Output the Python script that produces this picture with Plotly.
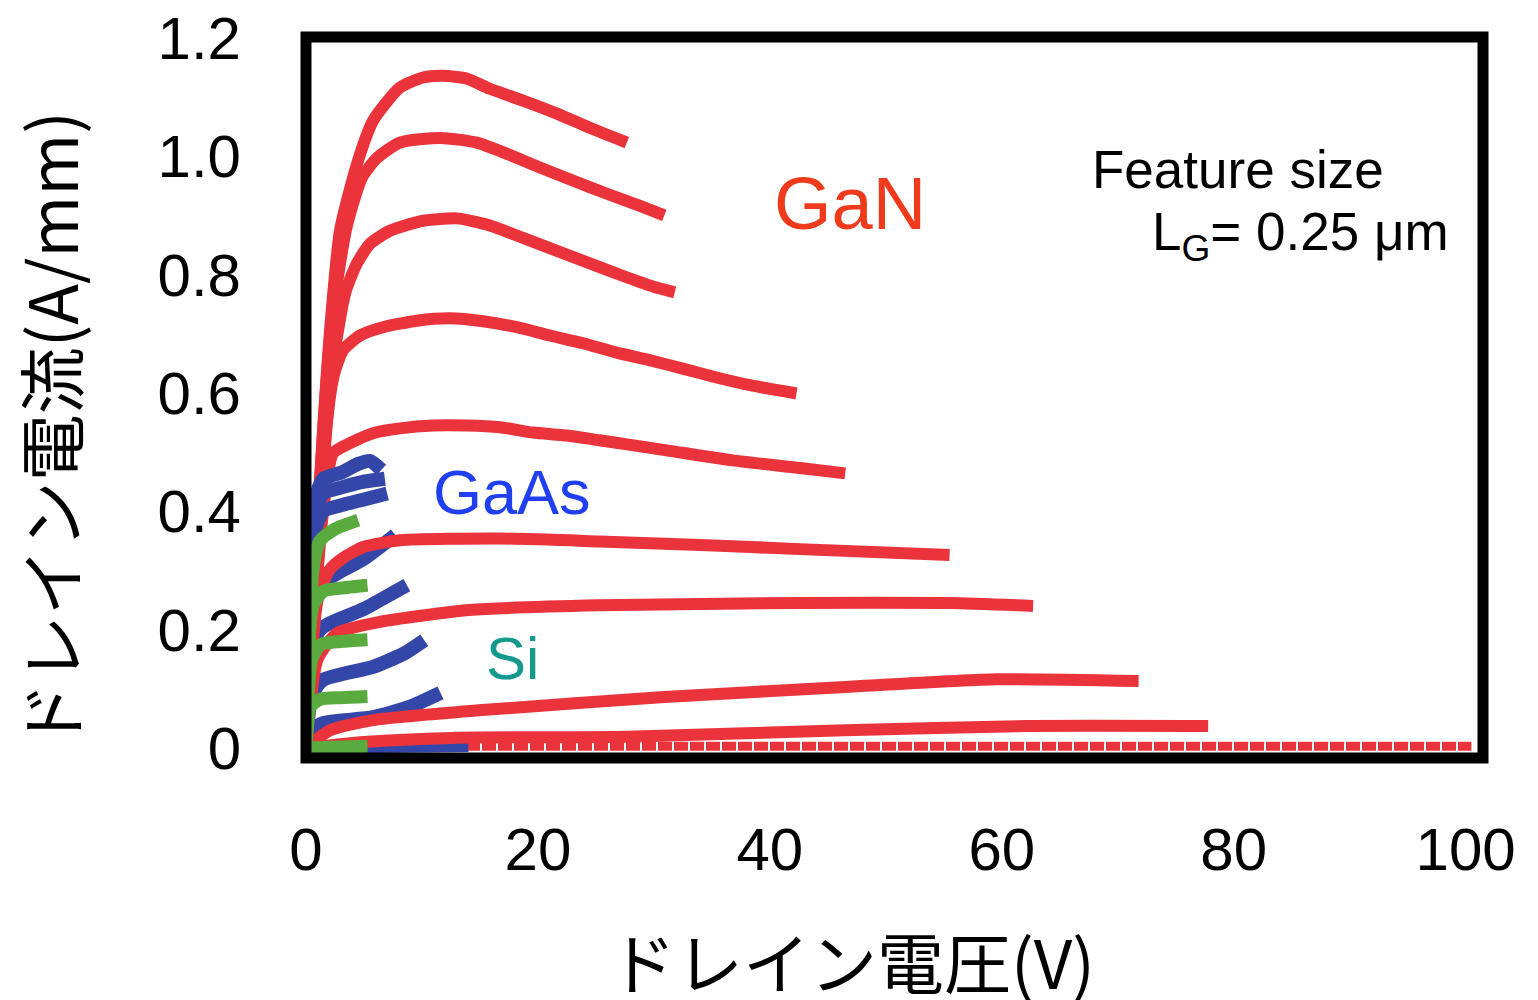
import plotly.graph_objects as go

# ---------------- data ----------------
# GaN drain characteristics (red), x = drain voltage (V), y = drain current (A/mm)
gan_x = [
    [0, 0.7, 1.47, 2.07, 2.93, 4.40, 5.78, 8.10, 10.09, 11.81, 13.88, 15.86, 18.71, 21.64, 24.48, 27.67],
    [0, 1.2, 2.2, 3.5, 4.83, 6.12, 8.10, 11.55, 14.74, 17.33, 20.17, 23.0, 25.9, 28.8, 30.9],
    [0, 1.2, 2.4, 3.4, 4.40, 5.52, 7.24, 10.09, 13.02, 15.86, 18.71, 21.64, 24.48, 27.3, 30.2, 31.8],
    [0, 1.0, 1.8, 2.4, 3.19, 4.66, 6.64, 9.57, 12.41, 15.26, 18.19, 21.03, 23.88, 26.8, 29.7, 32.5, 35.4, 38.3, 42.3],
    [0, 1.0, 1.6, 2.33, 3.79, 5.78, 8.10, 10.95, 13.88, 16.72, 19.57, 22.5, 25.3, 31.1, 36.8, 42.6, 46.5],
]
gan_y = [
    [0, 0.27, 0.537, 0.705, 0.874, 0.987, 1.060, 1.116, 1.133, 1.136, 1.131, 1.114, 1.094, 1.072, 1.048, 1.023],
    [0, 0.45, 0.72, 0.88, 0.964, 0.997, 1.023, 1.031, 1.023, 1.004, 0.981, 0.959, 0.937, 0.916, 0.900],
    [0, 0.42, 0.66, 0.77, 0.819, 0.852, 0.874, 0.891, 0.895, 0.883, 0.862, 0.840, 0.819, 0.798, 0.778, 0.770],
    [0, 0.30, 0.55, 0.63, 0.672, 0.697, 0.711, 0.722, 0.726, 0.721, 0.711, 0.697, 0.684, 0.668, 0.655, 0.641, 0.626, 0.613, 0.599],
    [0, 0.30, 0.42, 0.498, 0.515, 0.532, 0.540, 0.545, 0.545, 0.542, 0.533, 0.528, 0.520, 0.503, 0.486, 0.473, 0.464],
]
gan_low_x = [
    [0, 1.0, 2.0, 3.19, 5.0, 8.10, 16.7, 25.3, 34.0, 42.6, 55.5],
    [0, 1.0, 2.67, 6.38, 14.1, 25.3, 42.6, 55.5, 62.7],
    [0, 2.07, 5.78, 15.2, 30.9, 46.5, 59.6, 71.8],
    [0, 5.0, 12.6, 27.7, 46.5, 62.2, 77.8],
]
gan_low_y = [
    [0, 0.25, 0.30, 0.321, 0.340, 0.351, 0.354, 0.349, 0.343, 0.336, 0.326],
    [0, 0.15, 0.194, 0.213, 0.233, 0.241, 0.245, 0.245, 0.240],
    [0, 0.030, 0.047, 0.064, 0.086, 0.103, 0.116, 0.113],
    [0, 0.010, 0.017, 0.019, 0.030, 0.037, 0.037],
]
gan_off_x = [0, 100.5]
gan_off_y = [0.003, 0.003]

# GaAs drain characteristics (blue)
gaas_x = [
    [0, 0.5, 1.5, 3.0, 4.5, 5.5, 6.5],
    [0, 0.5, 1.5, 3.0, 5.0, 6.8],
    [0, 0.5, 1.5, 3.0, 5.0, 7.0],
    [0, 0.6, 1.5, 2.7, 5.0, 7.7],
    [0, 0.5, 1.2, 2.07, 5.0, 7.5, 8.7],
    [0, 0.5, 1.47, 5.78, 8.5, 10.2],
    [0, 0.5, 1.47, 5.78, 9.0, 11.6],
    [0, 5.0, 14.0],
]
gaas_y = [
    [0, 0.40, 0.455, 0.465, 0.480, 0.485, 0.470],
    [0, 0.38, 0.430, 0.440, 0.450, 0.455],
    [0, 0.35, 0.400, 0.410, 0.420, 0.430],
    [0, 0.25, 0.280, 0.295, 0.320, 0.360],
    [0, 0.17, 0.200, 0.211, 0.235, 0.262, 0.275],
    [0, 0.09, 0.115, 0.137, 0.160, 0.182],
    [0, 0.03, 0.042, 0.052, 0.070, 0.093],
    [0, 0.003, 0.005],
]

# Si drain characteristics (green)
si_x = [
    [0, 0.6, 1.2, 2.5, 4.5],
    [0, 0.6, 1.5, 3.0, 5.3],
    [0, 0.5, 1.3, 3.0, 5.3],
    [0, 0.4, 1.2, 3.0, 5.3],
    [0, 5.3],
]
si_y = [
    [0, 0.30, 0.350, 0.370, 0.385],
    [0, 0.24, 0.265, 0.270, 0.275],
    [0, 0.15, 0.175, 0.180, 0.183],
    [0, 0.07, 0.082, 0.085, 0.087],
    [0, 0.003],
]

x_ticks = [0, 20, 40, 60, 80, 100]
y_ticks = [0, 0.2, 0.4, 0.6, 0.8, 1.0, 1.2]
y_tick_text = ["0", "0.2", "0.4", "0.6", "0.8", "1.0", "1.2"]

RED = "#eb333b"
BLUE = "#3447a8"
GREEN = "#5aab3e"
LATIN = "Liberation Sans, Arial, Helvetica, sans-serif"
JP = "Noto Sans CJK JP, Liberation Sans, sans-serif"

fig = go.Figure()


def add_curve(xs, ys, color, width, dash=None):
    fig.add_trace(go.Scatter(
        x=xs, y=ys, mode="lines",
        line=dict(color=color, width=width, shape="spline", smoothing=0.6, dash=dash),
        hoverinfo="skip", showlegend=False,
    ))


for xs, ys in zip(gan_x, gan_y):
    add_curve(xs, ys, RED, 12)
add_curve(gan_off_x, gan_off_y, RED, 9, dash="14px,2px")
for xs, ys in zip(gaas_x, gaas_y):
    add_curve(xs, ys, BLUE, 14)
for xs, ys in zip(gan_low_x, gan_low_y):
    add_curve(xs, ys, RED, 12)
for xs, ys in zip(si_x, si_y):
    add_curve(xs, ys, GREEN, 13)

# plot frame
fig.add_shape(type="rect", xref="paper", yref="paper", x0=0, x1=1, y0=0, y1=1,
              line=dict(color="black", width=11), layer="above")

annotations = [
    dict(x=46.9, y=0.92, text="GaN", font=dict(size=74, color="#ef3b1c", family=LATIN)),
    dict(x=17.8, y=0.432, text="GaAs", font=dict(size=63, color="#1f3ff0", family=LATIN)),
    dict(x=17.8, y=0.152, text="Si", font=dict(size=60, color="#15998f", family=LATIN)),
    dict(x=67.6, y=0.978, text="Feature size", xanchor="left",
         font=dict(size=53, color="black", family=LATIN)),
    dict(x=72.8, y=0.866, text="L<sub>G</sub>= 0.25 μm", xanchor="left",
         font=dict(size=53, color="black", family=LATIN)),
]
for a in annotations:
    a.setdefault("xref", "x")
    a.setdefault("yref", "y")
    a["showarrow"] = False
    fig.add_annotation(**a)

# axis titles
fig.add_annotation(xref="paper", yref="paper", x=0.464, y=-0.279, xanchor="center",
                   yanchor="middle", text="ドレイン電圧(V)", showarrow=False,
                   font=dict(size=67, color="black", family=JP))
fig.add_annotation(xref="paper", yref="paper", x=-0.218, y=0.455, xanchor="center",
                   yanchor="middle", text="ドレイン電流(A/mm)", textangle=-90, showarrow=False,
                   font=dict(size=67, color="black", family=JP))

fig.update_xaxes(range=[0, 101.5], tickvals=x_ticks, showgrid=False, zeroline=False,
                 showline=False, ticks="", ticklabelstandoff=51, automargin=False,
                 ticklabeloverflow="allow",
                 tickfont=dict(size=60, color="black", family=LATIN))
fig.update_yaxes(range=[-0.017, 1.2015], tickvals=y_ticks, ticktext=y_tick_text,
                 showgrid=False, zeroline=False, showline=False, ticks="", automargin=False,
                 ticklabelstandoff=64, ticklabeloverflow="allow",
                 tickfont=dict(size=60, color="black", family=LATIN))

# the page adds an 8 px body margin, so the figure is 8 px smaller than the window
fig.update_layout(
    width=1530, height=992,
    margin=dict(l=298, r=55, t=29, b=242),
    plot_bgcolor="white", paper_bgcolor="white",
    showlegend=False,
)

fig.write_html("out.html")
